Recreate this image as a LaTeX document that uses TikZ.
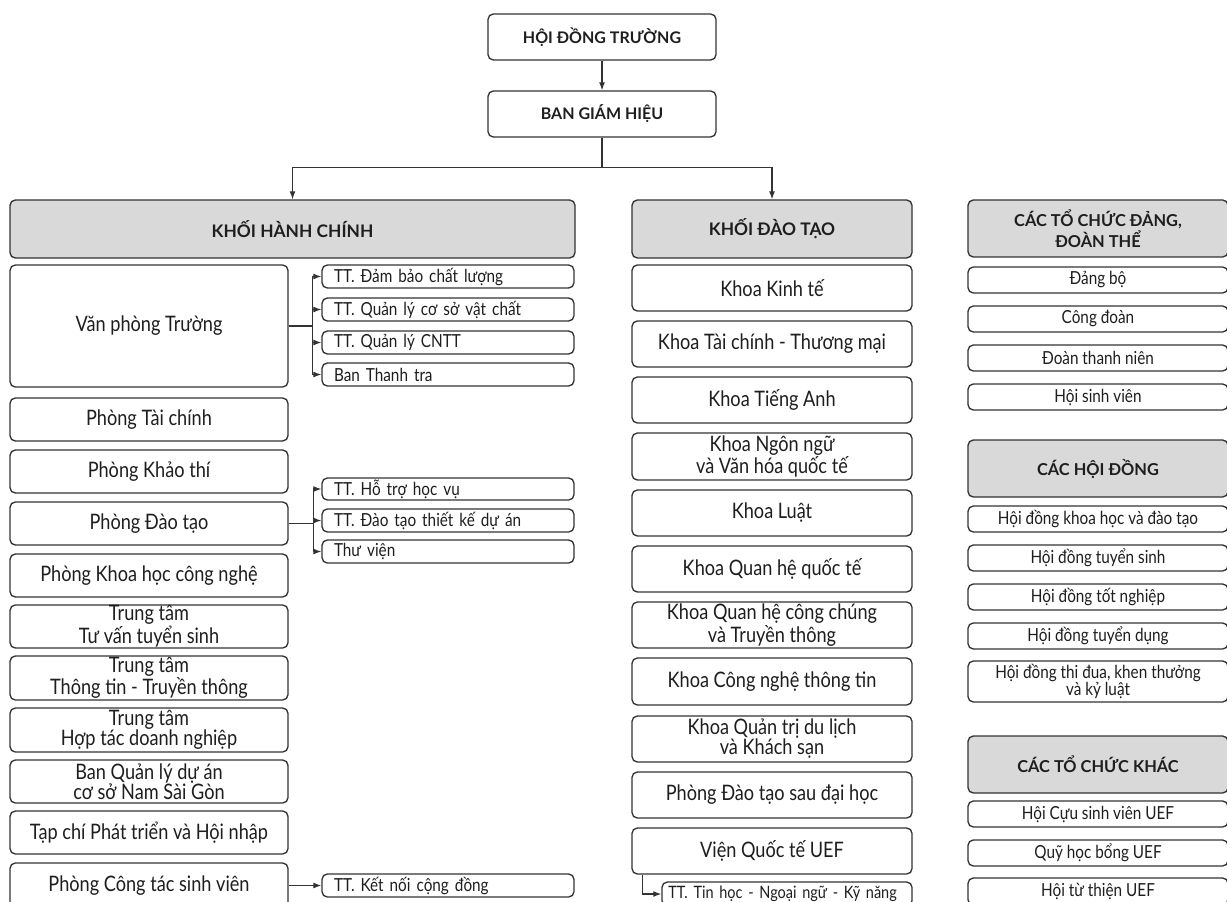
\documentclass[tikz,border=0pt]{standalone}
\usepackage{fontspec}
\setmainfont[FakeStretch=0.85]{Lato}
\newfontfamily\hfont{Lato}
\usetikzlibrary{arrows.meta,calc}
\definecolor{ln}{HTML}{333333}
\definecolor{hd}{HTML}{D9D9D9}
\definecolor{tx}{HTML}{1E1E1E}
\tikzset{
 bx/.style={draw=ln, line width=1pt, rounded corners=4pt, fill=white, inner sep=0pt, align=center, text=tx},
 hdr/.style={bx, fill=hd, font=\hfont\bfseries\fontsize{13}{13}\selectfont},
 rhdr/.style={bx, fill=hd, font=\hfont\bfseries\fontsize{12.3}{12}\selectfont},
 topbox/.style={bx, font=\hfont\bfseries\fontsize{12}{12}\selectfont},
 mainbox/.style={bx, font=\fontsize{16}{15}\selectfont},
 subbox/.style={bx, font=\fontsize{13.5}{13}\selectfont, align=left, text width=171pt},
 rbox/.style={bx, font=\fontsize{13.5}{12.5}\selectfont},
 arr/.style={draw=ln, line width=0.9pt, -{Latex[length=6pt,width=4.5pt]}},
 conn/.style={draw=ln, line width=0.9pt},
}
\newcommand\BX[8][]{%
 \pgfmathsetmacro\cx{(#4+#6)/2}\pgfmathsetmacro\cy{(#5+#7)/2}%
 \pgfmathsetmacro\ww{(#6-#4)*0.75}\pgfmathsetmacro\hh{(#7-#5)*0.75}%
 \node[#3, minimum width=\ww pt, minimum height=\hh pt, #1] (#2) at (\cx,\cy) {#8};}
\begin{document}
\begin{tikzpicture}[x=0.75pt,y=-0.75pt]
\clip (0,0) rectangle (1227,902);
\fill[white] (0,0) rectangle (1227,902);
% top
\BX{hdt}{topbox}{488}{14}{716}{60}{HỘI ĐỒNG TRƯỜNG}
\BX{bgh}{topbox}{488}{91}{716}{137}{BAN GIÁM HIỆU}
% left column
\BX{khc}{hdr}{10}{200}{575}{258}{KHỐI HÀNH CHÍNH}
\BX{vpt}{mainbox}{10}{265}{288}{387}{Văn phòng Trường}
\BX{sa}{subbox}{322}{265}{574}{288}{TT. Đảm bảo chất lượng}
\BX{sb}{subbox}{322}{298}{574}{321}{TT. Quản lý cơ sở vật chất}
\BX{sc}{subbox}{322}{331}{574}{354}{TT. Quản lý CNTT}
\BX{sd}{subbox}{322}{363}{574}{386}{Ban Thanh tra}
\BX{ptc}{mainbox}{10}{398}{288}{441}{Phòng Tài chính}
\BX{pkt}{mainbox}{10}{450}{288}{493}{Phòng Khảo thí}
\BX{pdt}{mainbox}{10}{502}{288}{545}{Phòng Đào tạo}
\BX{da}{subbox}{322}{478}{574}{500}{TT. Hỗ trợ học vụ}
\BX{db}{subbox}{322}{509}{574}{532}{TT. Đào tạo thiết kế dự án}
\BX{dc}{subbox}{322}{540}{574}{563}{Thư viện}
\BX{pkh}{mainbox}{10}{554}{288}{597}{Phòng Khoa học công nghệ}
\BX{tta}{mainbox}{10}{605}{288}{648}{Trung tâm\\Tư vấn tuyển sinh}
\BX{ttb}{mainbox}{10}{656}{288}{700}{Trung tâm\\Thông tin - Truyền thông}
\BX{ttc}{mainbox}{10}{708}{288}{752}{Trung tâm\\Hợp tác doanh nghiệp}
\BX{bql}{mainbox}{10}{760}{288}{803}{Ban Quản lý dự án\\cơ sở Nam Sài Gòn}
\BX{tcp}{mainbox}{10}{811}{288}{854}{Tạp chí Phát triển và Hội nhập}
\BX{pct}{mainbox}{10}{863}{288}{908}{Phòng Công tác sinh viên}
\BX{kn}{subbox}{322}{874}{574}{897}{TT. Kết nối cộng đồng}
% middle column
\BX{kdt}{hdr}{632}{200}{912}{258}{KHỐI ĐÀO TẠO}
\BX{ma}{mainbox}{632}{265}{912}{311}{Khoa Kinh tế}
\BX{mb}{mainbox}{632}{321}{912}{367}{Khoa Tài chính - Thương mại}
\BX{mc}{mainbox}{632}{377}{912}{423}{Khoa Tiếng Anh}
\BX{md}{mainbox}{632}{433}{912}{480}{Khoa Ngôn ngữ\\và Văn hóa quốc tế}
\BX{me}{mainbox}{632}{490}{912}{536}{Khoa Luật}
\BX{mf}{mainbox}{632}{546}{912}{592}{Khoa Quan hệ quốc tế}
\BX{mg}{mainbox}{632}{602}{912}{648}{Khoa Quan hệ công chúng\\và Truyền thông}
\BX{mh}{mainbox}{632}{658}{912}{705}{Khoa Công nghệ thông tin}
\BX{mi}{mainbox}{632}{716}{912}{762}{Khoa Quản trị du lịch\\và Khách sạn}
\BX{mj}{mainbox}{632}{772}{912}{818}{Phòng Đào tạo sau đại học}
\BX{mk}{mainbox}{632}{828}{912}{874}{Viện Quốc tế UEF}
\BX[text width=178pt, font=\fontsize{12.8}{13}\selectfont]{tth}{subbox}{662}{882}{912}{906}{TT. Tin học - Ngoại ngữ - Kỹ năng}
% right column
\BX{ra}{rhdr}{968}{200}{1228}{257}{CÁC TỔ CHỨC ĐẢNG,\\ĐOÀN THỂ}
\BX{rb}{rbox}{968}{267}{1228}{293}{Đảng bộ}
\BX{rc}{rbox}{968}{306}{1228}{332}{Công đoàn}
\BX{rd}{rbox}{968}{345}{1228}{371}{Đoàn thanh niên}
\BX{re}{rbox}{968}{384}{1228}{410}{Hội sinh viên}
\BX{ha}{rhdr}{968}{440}{1228}{497}{CÁC HỘI ĐỒNG}
\BX{hb}{rbox}{968}{506}{1228}{532}{Hội đồng khoa học và đào tạo}
\BX{hc}{rbox}{968}{545}{1228}{571}{Hội đồng tuyển sinh}
\BX{hdd}{rbox}{968}{584}{1228}{610}{Hội đồng tốt nghiệp}
\BX{he}{rbox}{968}{623}{1228}{649}{Hội đồng tuyển dụng}
\BX{hf}{rbox}{968}{661}{1228}{702}{Hội đồng thi đua, khen thưởng\\và kỷ luật}
\BX{ka}{rhdr}{968}{736}{1228}{793}{CÁC TỔ CHỨC KHÁC}
\BX{kb}{rbox}{968}{801}{1228}{827}{Hội Cựu sinh viên UEF}
\BX{kc}{rbox}{968}{840}{1228}{866}{Quỹ học bổng UEF}
\BX{kd}{rbox}{968}{878}{1228}{905}{Hội từ thiện UEF}
% connectors
\draw[arr] (hdt) -- (bgh);
\draw[arr] (bgh.south) -- ++(0,30) -| (khc.north);
\draw[arr] (bgh.south) -- ++(0,30) -| (kdt.north);
\draw[conn] (vpt.east) -- ++(24,0) coordinate (jv);
\foreach \s in {sa,sb,sc,sd} \draw[arr] (jv) |- (\s.west);
\draw[conn] (pdt.east) -- ++(25,0) coordinate (jd);
\foreach \s in {da,db,dc} \draw[arr] (jd) |- (\s.west);
\draw[arr] (pct.east) -- (kn.west);
\draw[arr] ($(mk.south west)+(11,0)$) |- (tth.west);
\end{tikzpicture}
\end{document}
